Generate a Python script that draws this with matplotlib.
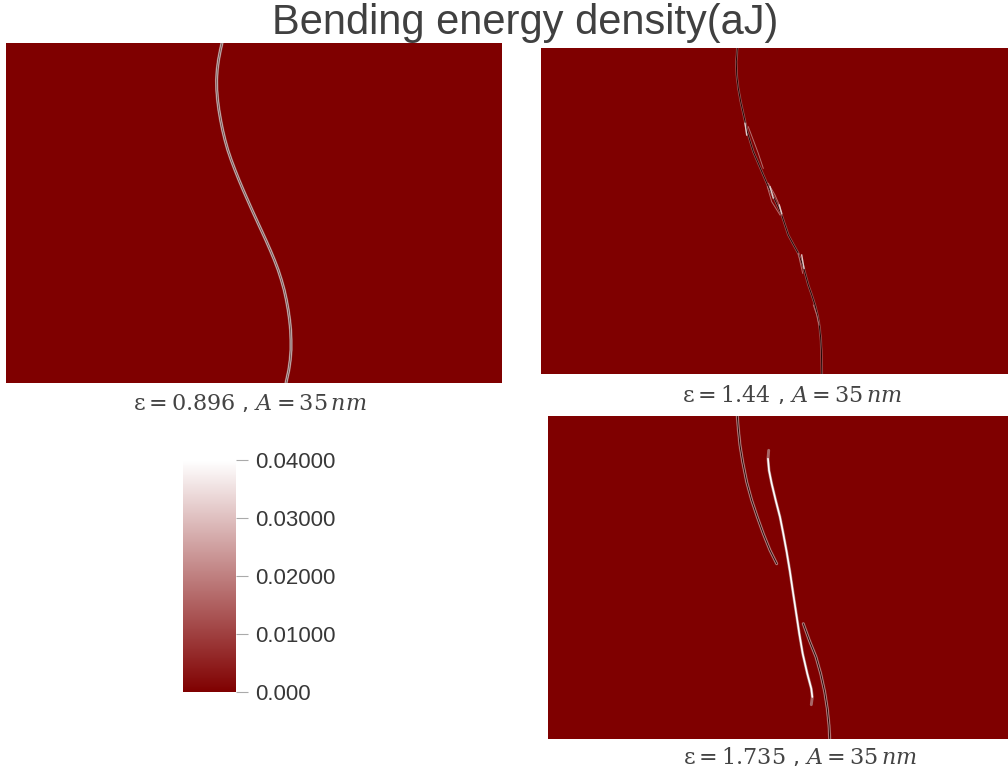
import matplotlib
matplotlib.use('Agg')
import matplotlib.pyplot as plt
from matplotlib.colors import LinearSegmentedColormap, Normalize
from matplotlib.cm import ScalarMappable

W, H = 1008, 774
plt.rcParams['mathtext.fontset'] = 'custom'
plt.rcParams['mathtext.rm'] = 'DejaVu Serif'
plt.rcParams['mathtext.it'] = 'DejaVu Serif:italic'

title = 'Bending energy density(aJ)'
captions = ['$\\mathrm{ε}=\\mathrm{0.896}$ , $A=35\\,nm$',
            '$\\mathrm{ε}=\\mathrm{1.44}$ , $A=35\\,nm$',
            '$\\mathrm{ε}=\\mathrm{1.735}$ , $A=35\\,nm$']
cbar_ticks = [0.0, 0.01, 0.02, 0.03, 0.04]
cbar_labels = ['0.000', '0.01000', '0.02000', '0.03000', '0.04000']

# curves, x and y in image pixels
p1_x = [222, 220.4, 218.5, 217.2, 216.6, 216.8, 217.6, 218.9, 220.6, 222.6, 225, 227.8, 231.2, 235, 239, 243.2, 247.6,
        252, 256.6, 261.2, 265.8, 270.2, 274.4, 278.2, 281.4, 284.2, 286.4, 288.2, 289.6, 290.6, 291, 291, 290.2, 288.8, 286]
p1_y = [43, 50, 60, 70, 80, 90, 100, 110, 120, 130, 140, 150, 160, 170, 180, 190, 200,
        210, 220, 230, 240, 250, 260, 270, 280, 290, 300, 310, 320, 330, 340, 350, 360, 370, 383]

p2_x = [737.3, 736.3, 736.7, 738.3, 740.7, 744, 747.3, 753.3, 758.3, 763.3, 768.3, 775, 781.7, 785, 788.3, 793.3, 798.3,
        803.3, 808.3, 811.8, 815, 817.5, 819.3, 820.6, 821.4, 821.8]
p2_y = [48.3, 61.7, 75, 88.3, 101.7, 116.7, 131.7, 151.7, 163.3, 175, 186.7, 200, 215, 225, 235, 244.3, 253.3,
        266.7, 285, 295, 305, 315, 325, 337, 350, 374]
p2_side_x = [[748.3, 753.3, 758.3, 763.3], [768.3, 775, 779.3, 781.7], [767.3, 771.7, 780], [798.3, 800, 802.7], [813.3, 816.7, 819]]
p2_side_y = [[126.7, 140, 153.3, 168.3], [183.3, 195, 205, 215], [186.7, 201.7, 215], [253.3, 261.7, 273.3], [305, 315, 325]]
p2_bright_x = [[745, 746.7], [770, 773.3], [779.3, 781.7], [801.7, 804]]
p2_bright_y = [[123.3, 135], [186.7, 198], [205, 213.3], [255, 268.3]]

p3_up_x = [737.3, 738.3, 740, 742.7, 746.7, 751.7, 757.3, 763.3, 770, 776.7]
p3_up_y = [416, 428.7, 445.3, 462, 482, 500.3, 517, 533.7, 550.3, 563.7]
p3_mid_x = [768.7, 768, 769, 771.7, 775.7, 780, 783.3, 786.7, 790, 792.7, 796, 799.3, 802.7, 807.3, 811.3, 812.3, 811.3]
p3_mid_y = [450.3, 458.7, 470.3, 483.7, 500.3, 517, 533.7, 552, 572, 590.3, 612, 633.7, 653.7, 673.7, 688.7, 697, 704.7]
p3_low_x = [803.3, 809.3, 816, 820.7, 824.7, 827.3, 829, 829.7]
p3_low_y = [623.7, 640.3, 657, 673.7, 692, 708.7, 725.3, 738.7]

# panels as left, top, right, bottom in pixels
box1 = (6, 43, 502, 383)
box2 = (541, 48, 1008, 374)
box3 = (548, 416, 1008, 739)
cbar_box = (183, 460, 236, 692)

dark_red = '#7f0000'


def add_box(fig, box):
    left, top, right, bottom = box
    return fig.add_axes([left / W, 1 - bottom / H, (right - left) / W, (bottom - top) / H])


def panel(fig, box):
    ax = add_box(fig, box)
    ax.set_xlim(box[0], box[2])
    ax.set_ylim(box[3], box[1])
    ax.set_facecolor(dark_red)
    ax.set_xticks([])
    ax.set_yticks([])
    for s in ax.spines.values():
        s.set_visible(False)
    return ax


def strand(ax, x, y, edge, outer, inner, lw, lw_in):
    ax.plot(x, y, color=edge, lw=lw + 0.7, solid_capstyle='round', solid_joinstyle='round')
    ax.plot(x, y, color=outer, lw=lw, solid_capstyle='round', solid_joinstyle='round')
    ax.plot(x, y, color=inner, lw=lw_in, solid_capstyle='round', solid_joinstyle='round')


fig = plt.figure(figsize=(W / 100, H / 100), dpi=100)

ax1 = panel(fig, box1)
strand(ax1, p1_x, p1_y, '#a06060', '#cdbaba', '#6a4a4a', 1.7, 0.6)

ax2 = panel(fig, box2)
strand(ax2, p2_x, p2_y, '#902828', '#b07070', '#200404', 1.2, 0.7)
for sx, sy in zip(p2_side_x, p2_side_y):
    ax2.plot(sx, sy, color='#b57070', lw=0.7)
for sx, sy in zip(p2_bright_x, p2_bright_y):
    ax2.plot(sx, sy, color='#e0caca', lw=1.0)

ax3 = panel(fig, box3)
strand(ax3, p3_up_x, p3_up_y, '#964040', '#c09090', '#2a0808', 1.7, 0.7)
strand(ax3, p3_low_x, p3_low_y, '#964040', '#c09090', '#2a0808', 1.7, 0.7)
ax3.plot(p3_mid_x, p3_mid_y, color='#a86868', lw=2.1, solid_capstyle='round', solid_joinstyle='round')
ax3.plot(p3_mid_x[1:-1], p3_mid_y[1:-1], color='#ffffff', lw=1.2, solid_capstyle='round', solid_joinstyle='round')

cax = add_box(fig, cbar_box)
cmap = LinearSegmentedColormap.from_list('reds', [dark_red, '#ffffff'])
cb = fig.colorbar(ScalarMappable(Normalize(0, 0.04), cmap), cax=cax)
cb.outline.set_visible(False)
cb.set_ticks(cbar_ticks, labels=cbar_labels)
cb.ax.tick_params(length=8.6, width=0.8, color='#aaaaaa', pad=5, labelsize=16, labelcolor='#383838')
for t in cb.ax.get_yticklabels():
    t.set_family('Liberation Sans')

fig.text(525 / W, 1 - 23 / H, title, ha='center', va='center', fontsize=30,
         family='Liberation Sans', color='#404040')
cap_kw = dict(ha='center', va='center', fontsize=16, color='#444444')
fig.text(250 / W, 1 - 403 / H, captions[0], **cap_kw)
fig.text(792 / W, 1 - 394 / H, captions[1], **cap_kw)
fig.text(800 / W, 1 - 757 / H, captions[2], **cap_kw)

fig.savefig('out.png', dpi=100)
